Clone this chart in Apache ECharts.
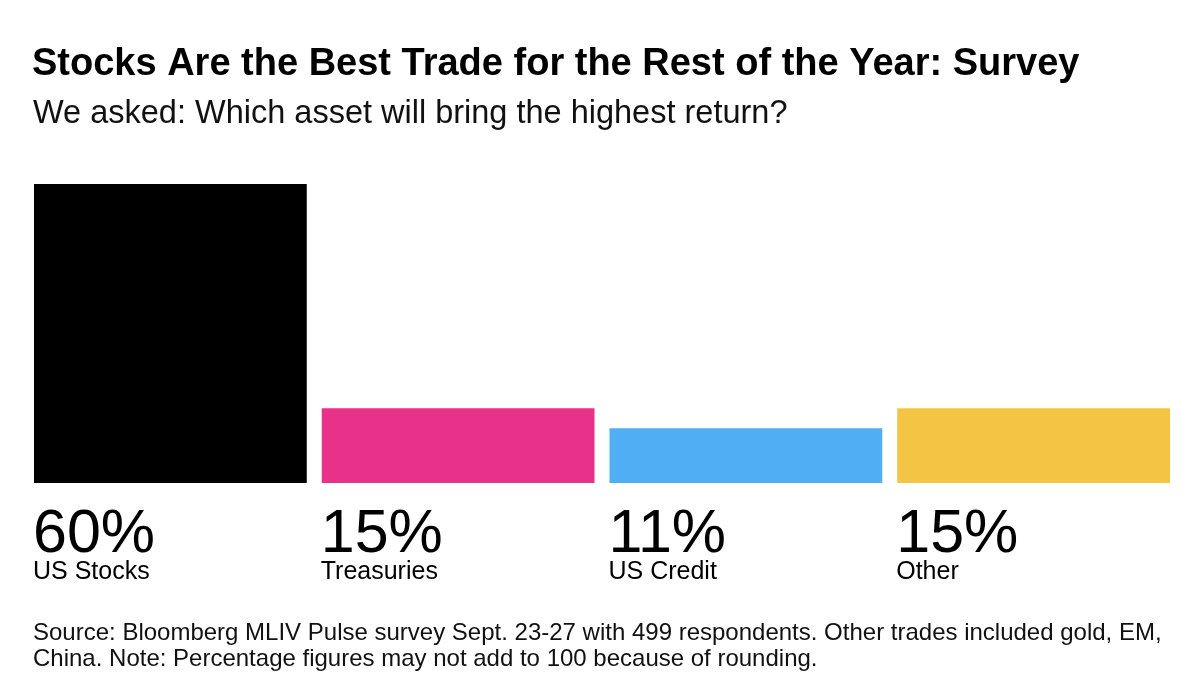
<!DOCTYPE html>
<html><head><meta charset="utf-8">
<script src="https://cdn.jsdelivr.net/npm/echarts@6/dist/echarts.min.js"></script>
<style>html,body{margin:0;padding:0;background:#fff}#c{width:1200px;height:686px}</style>
</head><body><div id="c"></div>
<script>
const categories = ['US Stocks', 'Treasuries', 'US Credit', 'Other'];
const values = [60, 15, 11, 15];
const colors = ['#000000', '#e8328a', '#50aef5', '#f4c444'];

const FONT = '"Liberation Sans", Arial, Helvetica, sans-serif';
const chart = echarts.init(document.getElementById('c'));
chart.setOption({
  backgroundColor: '#fff',
  animation: false,
  title: [{
    text: 'Stocks Are the Best Trade for the Rest of the Year: Survey',
    left: 32, top: 46, padding: 0,
    textStyle: { fontFamily: FONT, fontWeight: 'bold', fontSize: 38, color: '#000' }
  }, {
    text: 'We asked: Which asset will bring the highest return?',
    left: 33, top: 98, padding: 0,
    textStyle: { fontFamily: FONT, fontWeight: 'normal', fontSize: 32.5, color: '#111' }
  }, {
    text: 'Source: Bloomberg MLIV Pulse survey Sept. 23-27 with 499 respondents. Other trades included gold, EM,\nChina. Note: Percentage figures may not add to 100 because of rounding.',
    left: 33, top: 620, padding: 0,
    textStyle: { fontFamily: FONT, fontSize: 24, fontWeight: 'normal', color: '#111', lineHeight: 26 }
  }],
  grid: { left: 26.5, right: 22.5, top: 184, bottom: 203 },
  xAxis: {
    type: 'category', data: categories,
    axisLine: { show: false }, axisTick: { show: false }, axisLabel: { show: false }
  },
  yAxis: {
    type: 'value', min: 0, max: 60,
    axisLine: { show: false }, axisTick: { show: false }, axisLabel: { show: false },
    splitLine: { show: false }
  },
  series: [{
    type: 'bar',
    barCategoryGap: '5.2%',
    data: values.map((v, i) => ({ value: v, itemStyle: { color: colors[i] } })),
    label: {
      show: true,
      position: [0, '100%'],
      align: 'left', verticalAlign: 'top',
      offset: [-1, 28],
      formatter: p => '{v|' + p.value + '%}\n{n|' + p.name + '}',
      rich: {
        v: { fontFamily: FONT, fontSize: 61, lineHeight: 48, color: '#000' },
        n: { fontFamily: FONT, fontSize: 25, lineHeight: 26, color: '#000' }
      }
    }
  }]
});
</script></body></html>
